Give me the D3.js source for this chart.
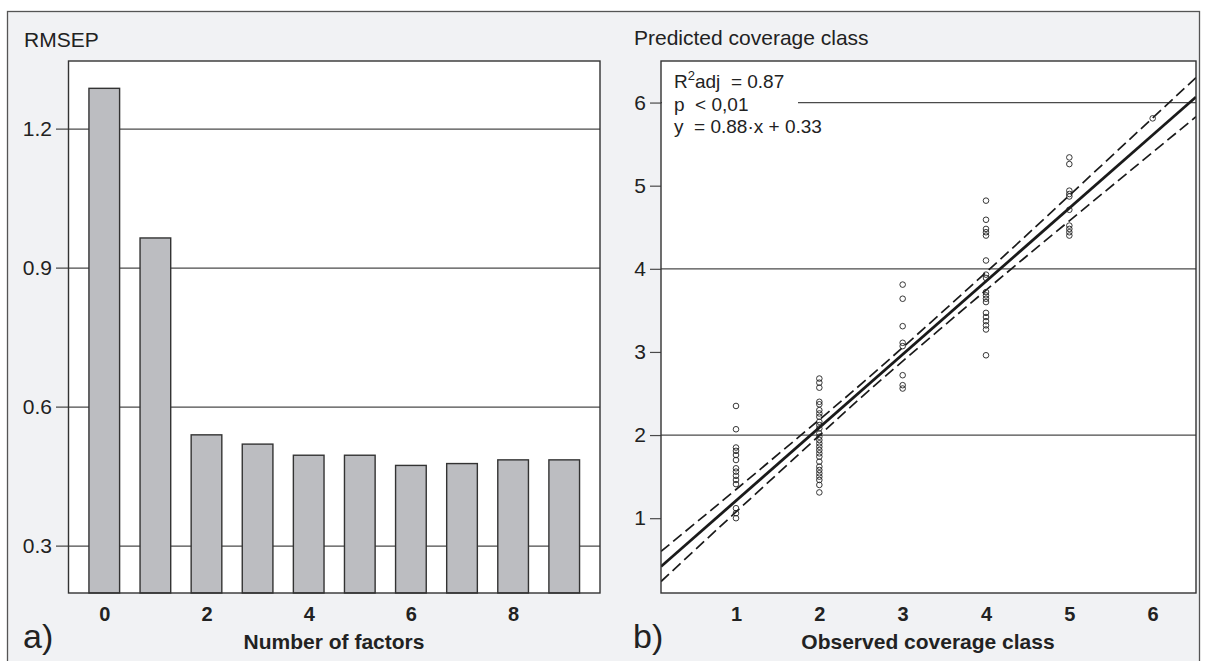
<!DOCTYPE html>
<html>
<head>
<meta charset="utf-8">
<script src="https://cdn.jsdelivr.net/npm/d3@7"></script>
<style>
  body { margin: 0; background: #fff; }
  text { font-family: "Liberation Sans", Arial, sans-serif; fill: #222; white-space: pre; }
</style>
</head>
<body>
<svg id="chart" width="1207" height="661"></svg>
<script>
// panel a) RMSEP by number of factors
const factors = [0, 1, 2, 3, 4, 5, 6, 7, 8, 9];
const rmsep = [1.288, 0.965, 0.540, 0.520, 0.496, 0.496, 0.474, 0.478, 0.486, 0.486];
const rmsepTicks = [0.3, 0.6, 0.9, 1.2];
const factorTicks = [0, 2, 4, 6, 8];

// panel b) predicted value of every sample, grouped by observed class
const predClass1 = [2.35, 2.07, 1.85, 1.81, 1.76, 1.70, 1.60, 1.56, 1.51, 1.46, 1.41, 1.12, 1.06, 1.00];
const predClass2 = [2.68, 2.63, 2.57, 2.40, 2.37, 2.30, 2.26, 2.22, 2.16, 2.12, 2.08, 2.02, 1.98, 1.94,
                    1.90, 1.86, 1.82, 1.78, 1.74, 1.68, 1.62, 1.58, 1.54, 1.50, 1.46, 1.40, 1.31];
const predClass3 = [3.81, 3.64, 3.31, 3.11, 3.07, 2.72, 2.60, 2.56];
const predClass4 = [4.82, 4.59, 4.48, 4.44, 4.40, 4.10, 3.93, 3.89, 3.72, 3.68, 3.64, 3.60,
                    3.47, 3.42, 3.37, 3.32, 3.27, 2.96];
const predClass5 = [5.34, 5.26, 4.94, 4.90, 4.87, 4.71, 4.52, 4.48, 4.44, 4.40];
const predClass6 = [5.81];
const classTicks = [1, 2, 3, 4, 5, 6];
const predGrid = [2, 4, 6];
const fitCoef = [0.88, 0.33]; // slope, intercept
// dashed confidence band
const bandX = [0.1, 1, 2, 2.8, 4, 5, 6.52];
const bandUpper = [0.60, 1.345, 2.185, 2.875, 3.957, 4.883, 6.30];
const bandLower = [0.238, 1.075, 1.995, 2.715, 3.743, 4.577, 5.83];
const statLines = ["adj  = 0.87", "p  < 0,01", "y  = 0.88\u00b7x + 0.33"];

const samples = [predClass1, predClass2, predClass3, predClass4, predClass5, predClass6]
  .flatMap((vals, i) => vals.map((v) => ({ obs: classTicks[i], pred: v })));

const svg = d3.select("#chart");
const lineCol = "#4a4a4a";
const frameTop = 61, frameBottom = 593;

// figure background
svg.append("rect")
  .attr("x", 7.5).attr("y", 11.5)
  .attr("width", 1192).attr("height", 670)
  .attr("fill", "#f1f2f4")
  .attr("stroke", "#555").attr("stroke-width", 1.3);

function styleTicks(sel, size, bold) {
  sel.select(".domain").remove();
  sel.selectAll("text")
    .attr("font-size", size)
    .attr("font-weight", bold ? "bold" : "normal")
    .attr("fill", "#222")
    .attr("font-family", "Liberation Sans, Arial, sans-serif");
}

// ---------- panel a ----------
const ax = d3.scaleLinear().domain([-0.7, 9.7]).range([68.5, 600]);
const ay = d3.scaleLinear().domain([0.1986, 1.347]).range([frameBottom, frameTop]);

const gA = svg.append("g");
gA.append("rect")
  .attr("x", 68.5).attr("y", frameTop).attr("width", 531.5).attr("height", frameBottom - frameTop)
  .attr("fill", "#fff");

gA.append("g").selectAll("line").data(rmsepTicks).join("line")
  .attr("x1", 56).attr("x2", 600)
  .attr("y1", (d) => ay(d)).attr("y2", (d) => ay(d))
  .attr("stroke", lineCol).attr("stroke-width", 1.2);

gA.append("g").selectAll("rect").data(factors).join("rect")
  .attr("x", (d) => ax(d - 0.3))
  .attr("width", ax(0.6) - ax(0))
  .attr("y", (d, i) => ay(rmsep[i]))
  .attr("height", (d, i) => frameBottom - ay(rmsep[i]))
  .attr("fill", "#bcbdc1")
  .attr("stroke", "#333").attr("stroke-width", 1.4);

gA.append("rect")
  .attr("x", 68.5).attr("y", frameTop).attr("width", 531.5).attr("height", frameBottom - frameTop)
  .attr("fill", "none").attr("stroke", "#333").attr("stroke-width", 1.4);

gA.append("g").attr("transform", "translate(56,0)")
  .call(d3.axisLeft(ay).tickValues(rmsepTicks).tickFormat(d3.format(".1f")).tickSize(0).tickPadding(4))
  .call(styleTicks, 21, false);

gA.append("g").attr("transform", `translate(0,${frameBottom})`)
  .call(d3.axisBottom(ax).tickValues(factorTicks).tickFormat(d3.format("d")).tickSize(0).tickPadding(14))
  .call(styleTicks, 20, true);

gA.append("text").attr("x", 24).attr("y", 47).attr("font-size", 21).text("RMSEP");
gA.append("text").attr("x", 334).attr("y", 649).attr("text-anchor", "middle")
  .attr("font-size", 21).attr("font-weight", "bold").text("Number of factors");
gA.append("text").attr("x", 23).attr("y", 648).attr("font-size", 34).text("a)");

// ---------- panel b ----------
const bx = d3.scaleLinear().domain([0.1, 6.52]).range([661, 1196]);
const by = d3.scaleLinear().domain([0.1, 6.5]).range([frameBottom, frameTop]);

const gB = svg.append("g");
gB.append("rect")
  .attr("x", 661).attr("y", frameTop).attr("width", 535).attr("height", frameBottom - frameTop)
  .attr("fill", "#fff");

gB.append("g").selectAll("line").data(predGrid).join("line")
  .attr("x1", 661).attr("x2", 1196)
  .attr("y1", (d) => by(d)).attr("y2", (d) => by(d))
  .attr("stroke", lineCol).attr("stroke-width", 1.2);

const yAxisB = gB.append("g").attr("transform", "translate(661,0)")
  .call(d3.axisLeft(by).tickValues(classTicks).tickFormat(d3.format("d")).tickSize(11).tickPadding(4))
  .call(styleTicks, 21, false);
yAxisB.selectAll("line").attr("stroke", lineCol).attr("stroke-width", 1.2);

gB.append("g").attr("transform", `translate(0,${frameBottom})`)
  .call(d3.axisBottom(bx).tickValues(classTicks).tickFormat(d3.format("d")).tickSize(0).tickPadding(14))
  .call(styleTicks, 20, true);

svg.append("clipPath").attr("id", "clipB")
  .append("rect").attr("x", 661).attr("y", frameTop).attr("width", 535).attr("height", frameBottom - frameTop);

const plotB = gB.append("g").attr("clip-path", "url(#clipB)");

const fitLine = d3.line().x((d) => bx(d)).y((d) => by(fitCoef[0] * d + fitCoef[1]));
plotB.append("path").datum(bx.domain())
  .attr("d", fitLine)
  .attr("fill", "none").attr("stroke", "#1a1a1a").attr("stroke-width", 2.8);

const bandLine = d3.line().curve(d3.curveNatural).x((d) => bx(d[0])).y((d) => by(d[1]));
[bandUpper, bandLower].forEach((b) => {
  plotB.append("path").datum(bandX.map((x, i) => [x, b[i]]))
    .attr("d", bandLine)
    .attr("fill", "none").attr("stroke", "#1a1a1a").attr("stroke-width", 1.7)
    .attr("stroke-dasharray", "11,5");
});

plotB.append("g").selectAll("circle").data(samples).join("circle")
  .attr("cx", (d) => bx(d.obs))
  .attr("cy", (d) => by(d.pred))
  .attr("r", 2.8)
  .attr("fill", "none").attr("stroke", "#222").attr("stroke-width", 0.9);

// statistics box
gB.append("rect").attr("x", 662).attr("y", frameTop + 1).attr("width", 136).attr("height", 80).attr("fill", "#fff");
const stats = gB.append("g").attr("font-size", 19);
const t0 = stats.append("text").attr("x", 674).attr("y", 88);
t0.append("tspan").text("R");
t0.append("tspan").attr("dy", -8).attr("font-size", 13).text("2");
t0.append("tspan").attr("dy", 8).text(statLines[0]);
stats.append("text").attr("x", 674).attr("y", 110.5).text(statLines[1]);
stats.append("text").attr("x", 674).attr("y", 133).text(statLines[2]);

gB.append("rect")
  .attr("x", 661).attr("y", frameTop).attr("width", 535).attr("height", frameBottom - frameTop)
  .attr("fill", "none").attr("stroke", "#333").attr("stroke-width", 1.4);

gB.append("text").attr("x", 634).attr("y", 45).attr("font-size", 21).text("Predicted coverage class");
gB.append("text").attr("x", 928).attr("y", 649).attr("text-anchor", "middle")
  .attr("font-size", 21).attr("font-weight", "bold").text("Observed coverage class");
gB.append("text").attr("x", 633).attr("y", 648).attr("font-size", 34).text("b)");
</script>
</body>
</html>
